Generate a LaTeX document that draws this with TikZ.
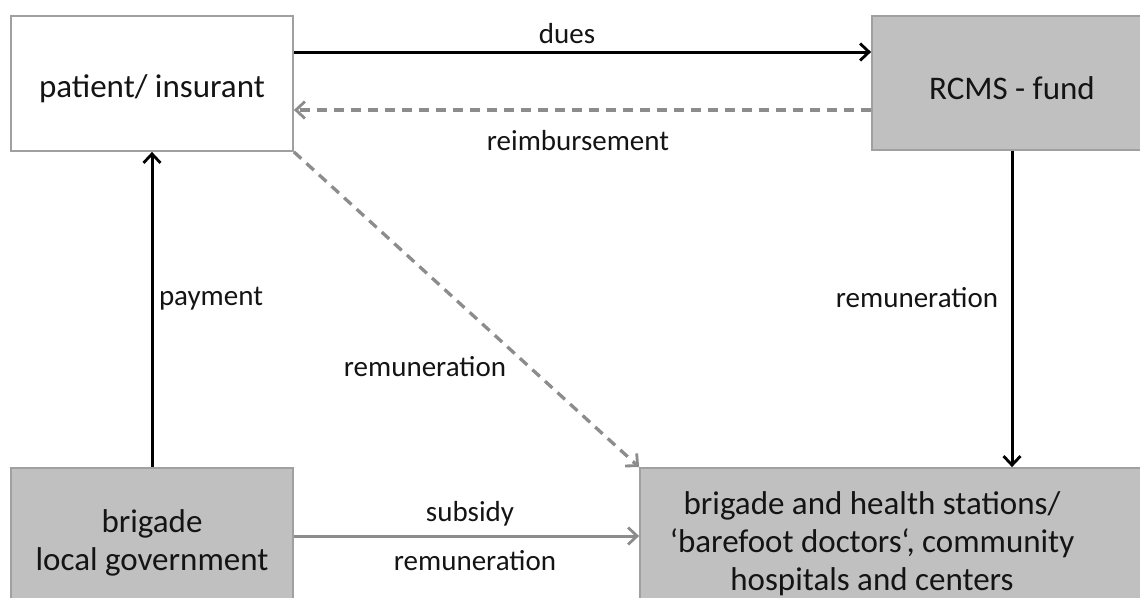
\documentclass[tikz,border=0pt]{standalone}
\usepackage{fontspec}
\setmainfont{Carlito}
\usetikzlibrary{arrows.meta}
\definecolor{boxgray}{RGB}{192,192,192}
\definecolor{edgegray}{RGB}{160,160,160}
\definecolor{flowgray}{RGB}{140,140,140}
\definecolor{inkblack}{RGB}{20,20,20}
\begin{document}
\begin{tikzpicture}[x=1pt,y=-1pt,
  whitebox/.style={draw=edgegray, fill=white, line width=1.8pt, inner sep=0pt},
  graybox/.style={whitebox, fill=boxgray},
  boxtext/.style={font=\fontsize{33}{38}\selectfont, align=center, inner sep=0pt, text=inkblack},
  lbl/.style={font=\fontsize{29}{34}\selectfont, anchor=base, inner sep=0pt, text=inkblack},
  tip/.style={-{Straight Barb[length=9pt,width=17pt,line width=2.8pt]}},
  solidarrow/.style={draw=black, line width=3pt, tip},
  grayarrow/.style={draw=flowgray, line width=3pt, tip},
  dashedarrow/.style={draw=flowgray, line width=3.3pt, dash pattern=on 10pt off 7pt, tip}]
\useasboundingbox (0,0) rectangle (1140,597);
\clip (0,0) rectangle (1140,597);

% boxes
\node[whitebox, minimum width=282pt, minimum height=135pt] (pat) at (152,83.5) {};
\node[graybox, minimum width=280pt, minimum height=134pt] (rcms) at (1012,83) {};
\node[graybox, minimum width=282pt, minimum height=144pt] (brig) at (152,540) {};
\node[graybox, minimum width=520pt, minimum height=144pt] (health) at (900,540) {};

% box texts
\node[boxtext] (pattext) at (152,88.5) {patient/ insurant};
\node[boxtext] (rcmstext) at (1012,88) {RCMS - fund};
\node[boxtext] (brigtext) at (152,543) {brigade\\local government};
\node[boxtext] (healthtext) at (872,544) {brigade and health stations/\\‘barefoot doctors‘, community\\hospitals and centers};

% flows
\draw[solidarrow] ([yshift=31.5pt]pat.east) -- ([yshift=31pt]rcms.west);
\draw[dashedarrow] ([yshift=-27pt]rcms.west) -- ([yshift=-26.5pt]pat.east);
\draw[solidarrow] (brig.north) -- (pat.south);
\draw[solidarrow] (rcms.south) -- (rcms.south |- health.north);
\draw[dashedarrow] (pat.south east) -- (health.north west);
\draw[grayarrow] ([yshift=4pt]brig.east) -- ([yshift=4pt]health.west);

% labels
\node[lbl] (ldues) at (567,43) {dues};
\node[lbl] (lreimb) at (578,150) {reimbursement};
\node[lbl] (lpay) at (211,305) {payment};
\node[lbl] (lremr) at (917,307) {remuneration};
\node[lbl] (lremd) at (425,376) {remuneration};
\node[lbl] (lsub) at (470,521) {subsidy};
\node[lbl] (lremb) at (475,570) {remuneration};
\end{tikzpicture}
\end{document}
